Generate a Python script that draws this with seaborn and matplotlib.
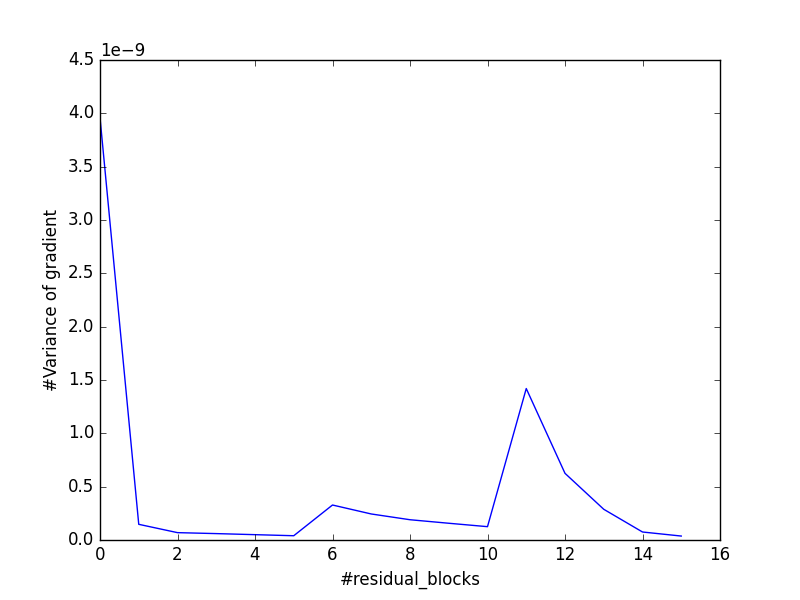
import numpy as np
import pandas as pd
import matplotlib
matplotlib.use("Agg")
import matplotlib.pyplot as plt
import seaborn as sns

# residual block index vs. variance of gradient
blocks = list(range(16))
variance = [3.96e-9, 0.147e-9, 0.069e-9, 0.06e-9, 0.05e-9, 0.04e-9,
            0.328e-9, 0.244e-9, 0.19e-9, 0.157e-9, 0.125e-9, 1.42e-9,
            0.625e-9, 0.288e-9, 0.075e-9, 0.037e-9]

data = pd.DataFrame({'block': blocks, 'variance': variance})

# old matplotlib look
plt.style.use('classic')

fig = plt.figure(figsize=(8, 6), facecolor='white')
ax = sns.lineplot(x='block', y='variance', data=data, color='b', linewidth=1)

ax.set_xlim(0, 16)
ax.set_ylim(0, 4.5e-9)
ax.set_xlabel('#residual_blocks')
ax.set_ylabel('#Variance of gradient')

plt.savefig('out.png', dpi=100, facecolor='white')
